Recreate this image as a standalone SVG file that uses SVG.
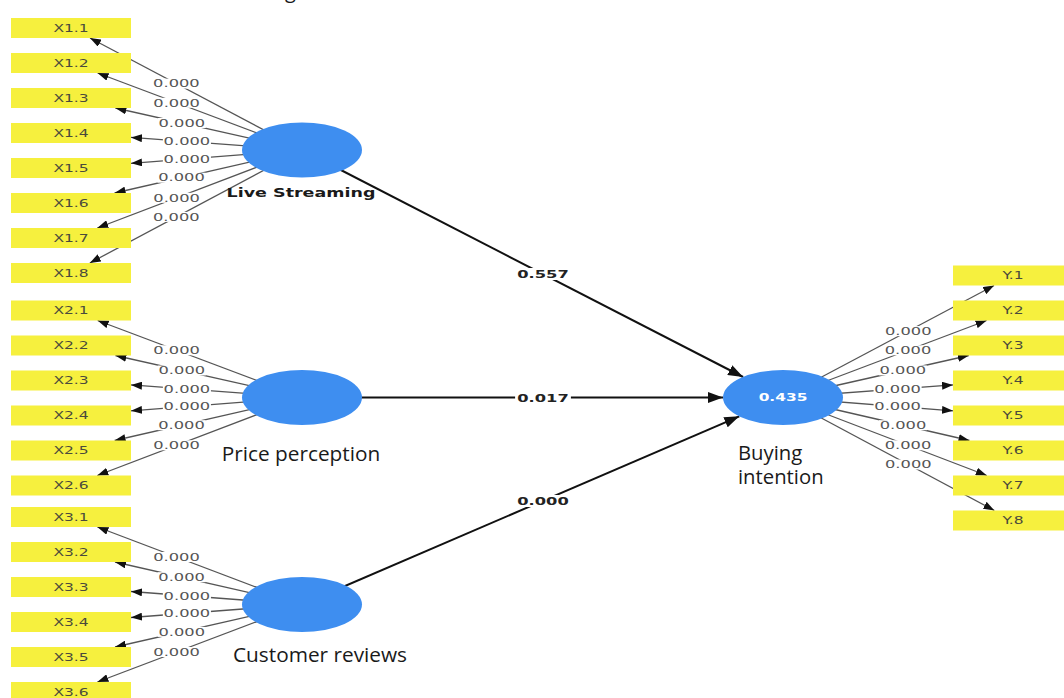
<svg xmlns="http://www.w3.org/2000/svg" width="1064" height="698" viewBox="0 0 1064 698">
  <style>
    .ind rect { fill: #f6f03e; }
    .ind text { font-family: "DejaVu Sans", sans-serif; font-size: 10px; fill: #4a4a3c; text-anchor: middle; }
    .lv { fill: #3e8ef0; }
    .load { stroke: #555; stroke-width: 1.3; fill: none; marker-end: url(#ah); }
    .path { stroke: #111; stroke-width: 2; fill: none; marker-end: url(#ahb); }
    .bg { fill: #fff; }
    .lbl text { font-family: "DejaVu Sans", sans-serif; font-size: 10.5px; fill: #555; text-anchor: middle; }
    .plbl text { font-family: "DejaVu Sans", sans-serif; font-weight: bold; font-size: 10.5px; fill: #222; text-anchor: middle; }
    .name { font-family: "Open Sans", sans-serif; font-size: 20.8px; fill: #1a1a1a; }
    .name2 { font-family: "Open Sans", sans-serif; font-size: 20.3px; fill: #1a1a1a; }
  </style>
  <defs>
    <marker id="ah" viewBox="0 0 11 8" refX="11" refY="4" markerWidth="11" markerHeight="8" markerUnits="userSpaceOnUse" orient="auto">
      <path d="M0,0 L11,4 L0,8 z" fill="#111"/>
    </marker>
    <marker id="ahb" viewBox="0 0 15 11" refX="15" refY="5.5" markerWidth="15" markerHeight="11" markerUnits="userSpaceOnUse" orient="auto">
      <path d="M0,0 L15,5.5 L0,11 z" fill="#111"/>
    </marker>
    <!-- white plate behind a value label, in the label's own (x-scaled) units -->
    <rect id="plate" x="-15.5" y="-5" width="31" height="10"/>
    <rect id="plate-b" x="-18" y="-6" width="36" height="12"/>
  </defs>

  <rect width="1064" height="698" fill="#fff"/>

  <!-- descender of a heading cut by the top edge -->
  <text x="285" y="-2" font-family="Open Sans, sans-serif" font-size="20" fill="#1a1a1a">g</text>

  <g id="connectors">
    <!-- outer loadings: Live Streaming -->
    <line class="load" x1="302" y1="150" x2="90" y2="38"/>
    <line class="load" x1="302" y1="150" x2="97.6" y2="73"/>
    <line class="load" x1="302" y1="150" x2="115.4" y2="108"/>
    <line class="load" x1="302" y1="150" x2="131" y2="137.4"/>
    <line class="load" x1="302" y1="150" x2="131" y2="163.3"/>
    <line class="load" x1="302" y1="150" x2="114.6" y2="193"/>
    <line class="load" x1="302" y1="150" x2="97.3" y2="228"/>
    <line class="load" x1="302" y1="150" x2="89.8" y2="263"/>
    <!-- outer loadings: Price perception -->
    <line class="load" x1="302" y1="397.5" x2="97.6" y2="320.5"/>
    <line class="load" x1="302" y1="397.5" x2="115.4" y2="355.5"/>
    <line class="load" x1="302" y1="397.5" x2="131" y2="384.9"/>
    <line class="load" x1="302" y1="397.5" x2="131" y2="410.8"/>
    <line class="load" x1="302" y1="397.5" x2="114.6" y2="440.5"/>
    <line class="load" x1="302" y1="397.5" x2="97.3" y2="475.5"/>
    <!-- outer loadings: Customer reviews -->
    <line class="load" x1="302" y1="604.5" x2="97.4" y2="527"/>
    <line class="load" x1="302" y1="604.5" x2="115" y2="562"/>
    <line class="load" x1="302" y1="604.5" x2="131" y2="591.5"/>
    <line class="load" x1="302" y1="604.5" x2="131" y2="617.5"/>
    <line class="load" x1="302" y1="604.5" x2="115" y2="647"/>
    <line class="load" x1="302" y1="604.5" x2="97.4" y2="682"/>
    <!-- outer loadings: Buying intention -->
    <line class="load" x1="783" y1="397.5" x2="994.1" y2="285.5"/>
    <line class="load" x1="783" y1="397.5" x2="986.6" y2="320.5"/>
    <line class="load" x1="783" y1="397.5" x2="968.8" y2="355.5"/>
    <line class="load" x1="783" y1="397.5" x2="953" y2="384.9"/>
    <line class="load" x1="783" y1="397.5" x2="953" y2="410.8"/>
    <line class="load" x1="783" y1="397.5" x2="969.5" y2="440.5"/>
    <line class="load" x1="783" y1="397.5" x2="986.8" y2="475.5"/>
    <line class="load" x1="783" y1="397.5" x2="994.4" y2="510.5"/>

    <!-- structural paths -->
    <line class="path" x1="302" y1="150" x2="743.1" y2="377"/>
    <line class="path" x1="302" y1="397.5" x2="723" y2="397.5"/>
    <line class="path" x1="302" y1="604.5" x2="739.3" y2="416.3"/>

    <!-- loading values -->
    <g class="lbl">
      <g transform="translate(176.4,83.6) scale(1.55,1)"><use href="#plate" class="bg"/><text dy="0.36em">0.000</text></g>
      <g transform="translate(176.6,102.8) scale(1.55,1)"><use href="#plate" class="bg"/><text dy="0.36em">0.000</text></g>
      <g transform="translate(181.8,123) scale(1.55,1)"><use href="#plate" class="bg"/><text dy="0.36em">0.000</text></g>
      <g transform="translate(186.9,141.5) scale(1.55,1)"><use href="#plate" class="bg"/><text dy="0.36em">0.000</text></g>
      <g transform="translate(186.9,159) scale(1.55,1)"><use href="#plate" class="bg"/><text dy="0.36em">0.000</text></g>
      <g transform="translate(181.5,177.7) scale(1.55,1)"><use href="#plate" class="bg"/><text dy="0.36em">0.000</text></g>
      <g transform="translate(176.6,197.8) scale(1.55,1)"><use href="#plate" class="bg"/><text dy="0.36em">0.000</text></g>
      <g transform="translate(176.3,216.9) scale(1.55,1)"><use href="#plate" class="bg"/><text dy="0.36em">0.000</text></g>

      <g transform="translate(176.6,350.3) scale(1.55,1)"><use href="#plate" class="bg"/><text dy="0.36em">0.000</text></g>
      <g transform="translate(181.8,370.5) scale(1.55,1)"><use href="#plate" class="bg"/><text dy="0.36em">0.000</text></g>
      <g transform="translate(186.9,389) scale(1.55,1)"><use href="#plate" class="bg"/><text dy="0.36em">0.000</text></g>
      <g transform="translate(186.9,406.5) scale(1.55,1)"><use href="#plate" class="bg"/><text dy="0.36em">0.000</text></g>
      <g transform="translate(181.5,425.2) scale(1.55,1)"><use href="#plate" class="bg"/><text dy="0.36em">0.000</text></g>
      <g transform="translate(176.6,445.3) scale(1.55,1)"><use href="#plate" class="bg"/><text dy="0.36em">0.000</text></g>

      <g transform="translate(176.5,557) scale(1.55,1)"><use href="#plate" class="bg"/><text dy="0.36em">0.000</text></g>
      <g transform="translate(181.6,577.2) scale(1.55,1)"><use href="#plate" class="bg"/><text dy="0.36em">0.000</text></g>
      <g transform="translate(186.9,595.8) scale(1.55,1)"><use href="#plate" class="bg"/><text dy="0.36em">0.000</text></g>
      <g transform="translate(186.9,613.3) scale(1.55,1)"><use href="#plate" class="bg"/><text dy="0.36em">0.000</text></g>
      <g transform="translate(181.7,631.9) scale(1.55,1)"><use href="#plate" class="bg"/><text dy="0.36em">0.000</text></g>
      <g transform="translate(176.6,652) scale(1.55,1)"><use href="#plate" class="bg"/><text dy="0.36em">0.000</text></g>

      <g transform="translate(908.2,331.1) scale(1.55,1)"><use href="#plate" class="bg"/><text dy="0.36em">0.000</text></g>
      <g transform="translate(908,350.3) scale(1.55,1)"><use href="#plate" class="bg"/><text dy="0.36em">0.000</text></g>
      <g transform="translate(902.8,370.4) scale(1.55,1)"><use href="#plate" class="bg"/><text dy="0.36em">0.000</text></g>
      <g transform="translate(897.6,389) scale(1.55,1)"><use href="#plate" class="bg"/><text dy="0.36em">0.000</text></g>
      <g transform="translate(897.6,406.5) scale(1.55,1)"><use href="#plate" class="bg"/><text dy="0.36em">0.000</text></g>
      <g transform="translate(903,425.2) scale(1.55,1)"><use href="#plate" class="bg"/><text dy="0.36em">0.000</text></g>
      <g transform="translate(908,445.3) scale(1.55,1)"><use href="#plate" class="bg"/><text dy="0.36em">0.000</text></g>
      <g transform="translate(908.3,464.5) scale(1.55,1)"><use href="#plate" class="bg"/><text dy="0.36em">0.000</text></g>
    </g>

    <!-- path coefficients -->
    <g class="plbl">
      <g transform="translate(543,274) scale(1.55,1)"><use href="#plate-b" class="bg"/><text dy="0.36em">0.557</text></g>
      <g transform="translate(543,398) scale(1.55,1)"><use href="#plate-b" class="bg"/><text dy="0.36em">0.017</text></g>
      <g transform="translate(543,501) scale(1.55,1)"><use href="#plate-b" class="bg"/><text dy="0.36em">0.000</text></g>
    </g>
  </g>

  <!-- latent variables -->
  <g id="live-streaming">
    <ellipse class="lv" cx="302" cy="150" rx="60" ry="27.5"/>
    <text transform="translate(301,197) scale(1.4,1)" font-family="DejaVu Sans, sans-serif" font-weight="bold" font-size="12.5" fill="#1a1a1a" text-anchor="middle">Live Streaming</text>
  </g>
  <g id="price-perception">
    <ellipse class="lv" cx="302" cy="397.5" rx="60" ry="27.5"/>
    <text class="name" x="301" y="461" text-anchor="middle">Price perception</text>
  </g>
  <g id="customer-reviews">
    <ellipse class="lv" cx="302" cy="604.5" rx="60" ry="27.5"/>
    <text class="name" x="320" y="662" text-anchor="middle">Customer reviews</text>
  </g>
  <g id="buying-intention">
    <ellipse class="lv" cx="783" cy="397.5" rx="60" ry="27.5"/>
    <text transform="translate(783,397.5) scale(1.4,1)" dy="0.36em" font-family="DejaVu Sans, sans-serif" font-weight="bold" font-size="11" fill="#fff" text-anchor="middle">0.435</text>
    <text class="name2" x="738" y="460">Buying</text>
    <text class="name2" x="738" y="484">intention</text>
  </g>

  <!-- indicators: Live Streaming -->
  <g id="X1.1" class="ind"><rect x="11" y="18" width="120" height="20"/><text transform="translate(71,28) scale(1.55,1)" dy="0.36em">X1.1</text></g>
  <g id="X1.2" class="ind"><rect x="11" y="53" width="120" height="20"/><text transform="translate(71,63) scale(1.55,1)" dy="0.36em">X1.2</text></g>
  <g id="X1.3" class="ind"><rect x="11" y="88" width="120" height="20"/><text transform="translate(71,98) scale(1.55,1)" dy="0.36em">X1.3</text></g>
  <g id="X1.4" class="ind"><rect x="11" y="123" width="120" height="20"/><text transform="translate(71,133) scale(1.55,1)" dy="0.36em">X1.4</text></g>
  <g id="X1.5" class="ind"><rect x="11" y="158" width="120" height="20"/><text transform="translate(71,168) scale(1.55,1)" dy="0.36em">X1.5</text></g>
  <g id="X1.6" class="ind"><rect x="11" y="193" width="120" height="20"/><text transform="translate(71,203) scale(1.55,1)" dy="0.36em">X1.6</text></g>
  <g id="X1.7" class="ind"><rect x="11" y="228" width="120" height="20"/><text transform="translate(71,238) scale(1.55,1)" dy="0.36em">X1.7</text></g>
  <g id="X1.8" class="ind"><rect x="11" y="263" width="120" height="20"/><text transform="translate(71,273) scale(1.55,1)" dy="0.36em">X1.8</text></g>

  <!-- indicators: Price perception -->
  <g id="X2.1" class="ind"><rect x="11" y="300.5" width="120" height="20"/><text transform="translate(71,310.5) scale(1.55,1)" dy="0.36em">X2.1</text></g>
  <g id="X2.2" class="ind"><rect x="11" y="335.5" width="120" height="20"/><text transform="translate(71,345.5) scale(1.55,1)" dy="0.36em">X2.2</text></g>
  <g id="X2.3" class="ind"><rect x="11" y="370.5" width="120" height="20"/><text transform="translate(71,380.5) scale(1.55,1)" dy="0.36em">X2.3</text></g>
  <g id="X2.4" class="ind"><rect x="11" y="405.5" width="120" height="20"/><text transform="translate(71,415.5) scale(1.55,1)" dy="0.36em">X2.4</text></g>
  <g id="X2.5" class="ind"><rect x="11" y="440.5" width="120" height="20"/><text transform="translate(71,450.5) scale(1.55,1)" dy="0.36em">X2.5</text></g>
  <g id="X2.6" class="ind"><rect x="11" y="475.5" width="120" height="20"/><text transform="translate(71,485.5) scale(1.55,1)" dy="0.36em">X2.6</text></g>

  <!-- indicators: Customer reviews -->
  <g id="X3.1" class="ind"><rect x="11" y="507" width="120" height="20"/><text transform="translate(71,517) scale(1.55,1)" dy="0.36em">X3.1</text></g>
  <g id="X3.2" class="ind"><rect x="11" y="542" width="120" height="20"/><text transform="translate(71,552) scale(1.55,1)" dy="0.36em">X3.2</text></g>
  <g id="X3.3" class="ind"><rect x="11" y="577" width="120" height="20"/><text transform="translate(71,587) scale(1.55,1)" dy="0.36em">X3.3</text></g>
  <g id="X3.4" class="ind"><rect x="11" y="612" width="120" height="20"/><text transform="translate(71,622) scale(1.55,1)" dy="0.36em">X3.4</text></g>
  <g id="X3.5" class="ind"><rect x="11" y="647" width="120" height="20"/><text transform="translate(71,657) scale(1.55,1)" dy="0.36em">X3.5</text></g>
  <g id="X3.6" class="ind"><rect x="11" y="682" width="120" height="20"/><text transform="translate(71,692) scale(1.55,1)" dy="0.36em">X3.6</text></g>

  <!-- indicators: Buying intention -->
  <g id="Y.1" class="ind"><rect x="953" y="265.5" width="120" height="20"/><text transform="translate(1013,275.5) scale(1.55,1)" dy="0.36em">Y.1</text></g>
  <g id="Y.2" class="ind"><rect x="953" y="300.5" width="120" height="20"/><text transform="translate(1013,310.5) scale(1.55,1)" dy="0.36em">Y.2</text></g>
  <g id="Y.3" class="ind"><rect x="953" y="335.5" width="120" height="20"/><text transform="translate(1013,345.5) scale(1.55,1)" dy="0.36em">Y.3</text></g>
  <g id="Y.4" class="ind"><rect x="953" y="370.5" width="120" height="20"/><text transform="translate(1013,380.5) scale(1.55,1)" dy="0.36em">Y.4</text></g>
  <g id="Y.5" class="ind"><rect x="953" y="405.5" width="120" height="20"/><text transform="translate(1013,415.5) scale(1.55,1)" dy="0.36em">Y.5</text></g>
  <g id="Y.6" class="ind"><rect x="953" y="440.5" width="120" height="20"/><text transform="translate(1013,450.5) scale(1.55,1)" dy="0.36em">Y.6</text></g>
  <g id="Y.7" class="ind"><rect x="953" y="475.5" width="120" height="20"/><text transform="translate(1013,485.5) scale(1.55,1)" dy="0.36em">Y.7</text></g>
  <g id="Y.8" class="ind"><rect x="953" y="510.5" width="120" height="20"/><text transform="translate(1013,520.5) scale(1.55,1)" dy="0.36em">Y.8</text></g>
</svg>
